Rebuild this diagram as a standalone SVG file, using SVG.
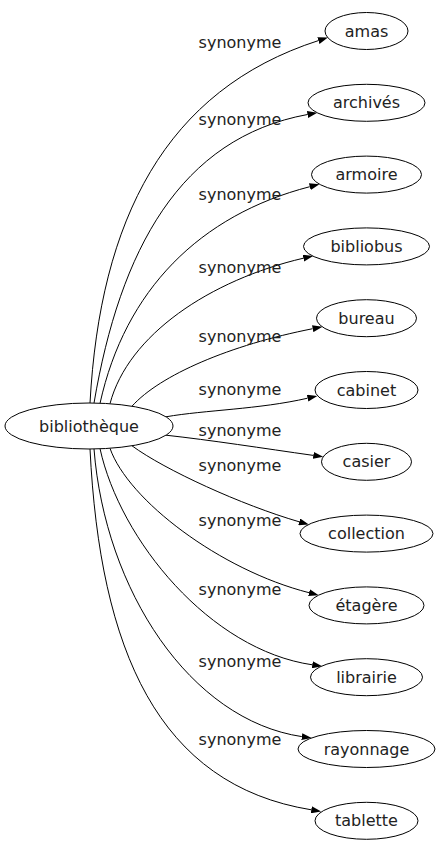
<svg xmlns="http://www.w3.org/2000/svg" width="440" height="851" viewBox="0 0 440 851">
<style>
.n ellipse{fill:#fff;stroke:#000;stroke-width:1}
.n text{font-family:"DejaVu Sans",sans-serif;font-size:16px;fill:#222;text-anchor:middle}
.e path{fill:none;stroke:#000;stroke-width:1;marker-end:url(#arr)}
.e text{font-family:"DejaVu Sans",sans-serif;font-size:16px;fill:#222;text-anchor:middle}
</style>
<defs>
<marker id="arr" markerWidth="10" markerHeight="7" refX="0" refY="3.5" orient="auto" markerUnits="userSpaceOnUse" viewBox="0 0 10 7"><path d="M0,0 L10,3.5 L0,7 z" fill="#000"/></marker>
</defs>
<rect width="440" height="851" fill="#fff"/>
<g id="edges" class="e">
<path d="M90,403 C100,220 165,90 318.4,40.6"/>
<path d="M94,403.1 C120,250 180,138 307.5,114.5"/>
<path d="M100,403.4 C125,290 200,215 309.8,186.7"/>
<path d="M110,403.7 C128,335 210,280 303.4,258.2"/>
<path d="M132,406.2 C160,375 230,345 312.7,328.7"/>
<path d="M166,416.8 C205,410 258.8,409.4 307.6,398.2"/>
<path d="M166,435.2 C210,440 263.8,448.4 313.3,455.4"/>
<path d="M132,445.8 C165,470 241.6,505 299.2,521.8"/>
<path d="M110,448.3 C128,500 220,570 309,592.7"/>
<path d="M100,448.6 C120,540 210,650 312.3,664.8"/>
<path d="M94,448.9 C105,590 190,720 301.8,736.6"/>
<path d="M90,449 C100,650 158,785 311.3,809.8"/>
<text x="240" y="48">synonyme</text>
<text x="240" y="125">synonyme</text>
<text x="240" y="200">synonyme</text>
<text x="240" y="273">synonyme</text>
<text x="240" y="342">synonyme</text>
<text x="240" y="395">synonyme</text>
<text x="240" y="436">synonyme</text>
<text x="240" y="471">synonyme</text>
<text x="240" y="526">synonyme</text>
<text x="240" y="595">synonyme</text>
<text x="240" y="667">synonyme</text>
<text x="240" y="745">synonyme</text>
</g>
<g id="bibliotheque" class="n"><ellipse cx="89" cy="426" rx="84" ry="23"/><text x="89" y="431.5">bibliothèque</text></g>
<g id="amas" class="n"><ellipse cx="366.5" cy="31" rx="41.5" ry="18.5"/><text x="366.5" y="36.5">amas</text></g>
<g id="archives" class="n"><ellipse cx="366.5" cy="102.8" rx="58.5" ry="18.5"/><text x="366.5" y="108.3">archivés</text></g>
<g id="armoire" class="n"><ellipse cx="366.5" cy="174.6" rx="55" ry="18.5"/><text x="366.5" y="180.1">armoire</text></g>
<g id="bibliobus" class="n"><ellipse cx="366.5" cy="246.4" rx="63" ry="18.5"/><text x="366.5" y="251.9">bibliobus</text></g>
<g id="bureau" class="n"><ellipse cx="366.5" cy="318.2" rx="50" ry="18.5"/><text x="366.5" y="323.7">bureau</text></g>
<g id="cabinet" class="n"><ellipse cx="366.5" cy="390" rx="51.5" ry="18.5"/><text x="366.5" y="395.5">cabinet</text></g>
<g id="casier" class="n"><ellipse cx="366.5" cy="461.8" rx="45" ry="18.5"/><text x="366.5" y="467.3">casier</text></g>
<g id="collection" class="n"><ellipse cx="366.5" cy="533.6" rx="66.5" ry="18.5"/><text x="366.5" y="539.1">collection</text></g>
<g id="etagere" class="n"><ellipse cx="366.5" cy="605.4" rx="57.5" ry="18.5"/><text x="366.5" y="610.9">étagère</text></g>
<g id="librairie" class="n"><ellipse cx="366.5" cy="677.2" rx="56" ry="18.5"/><text x="366.5" y="682.7">librairie</text></g>
<g id="rayonnage" class="n"><ellipse cx="366.5" cy="749" rx="68.5" ry="18.5"/><text x="366.5" y="754.5">rayonnage</text></g>
<g id="tablette" class="n"><ellipse cx="366.5" cy="820.8" rx="51.5" ry="18.5"/><text x="366.5" y="826.3">tablette</text></g>
</svg>
